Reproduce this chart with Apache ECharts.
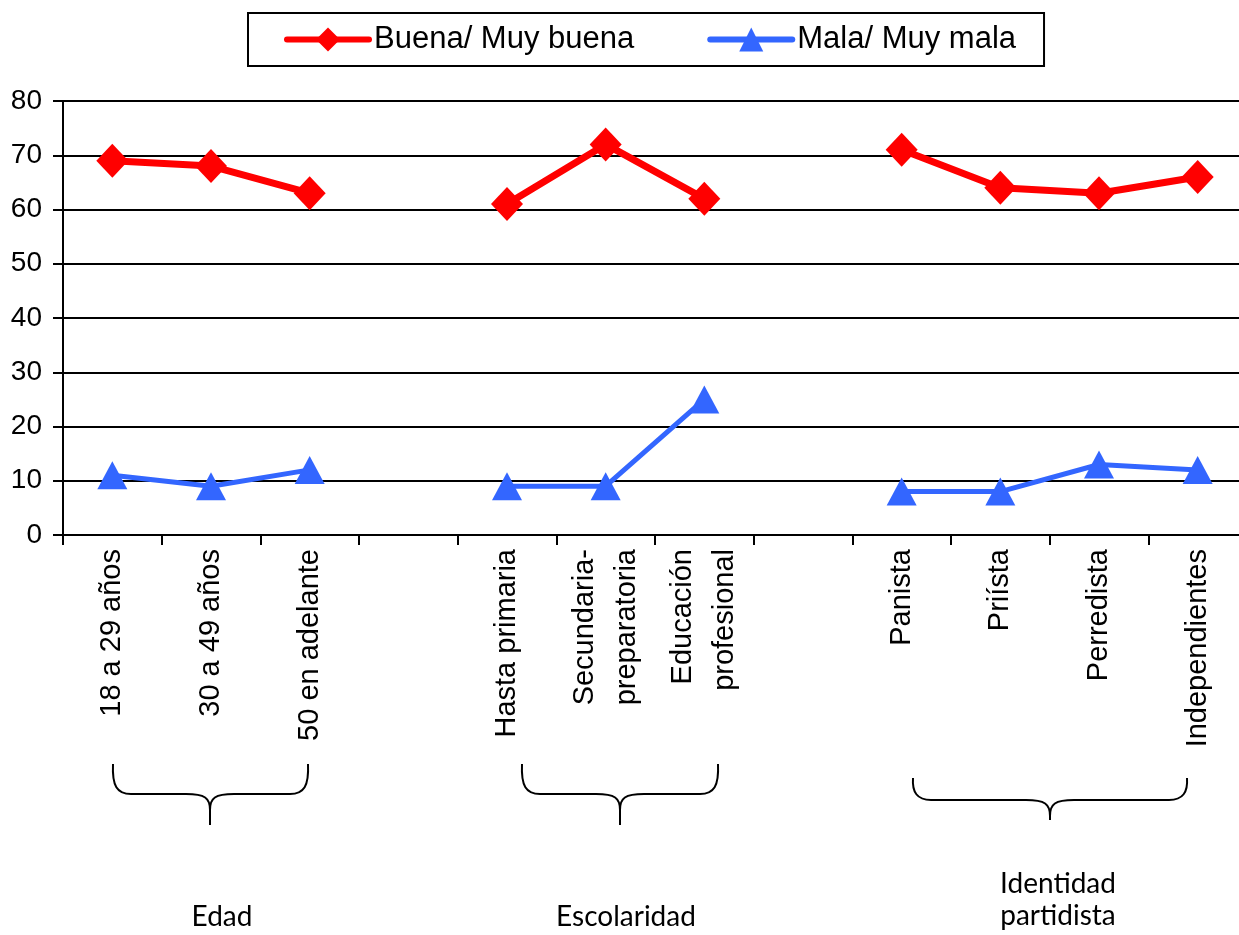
<!DOCTYPE html>
<html>
<head>
<meta charset="utf-8">
<script src="https://cdn.jsdelivr.net/npm/echarts@6/dist/echarts.min.js"></script>
<style>
html,body{margin:0;padding:0;background:#fff;}
#chart{width:1239px;height:935px;}
</style>
</head>
<body>
<div id="chart"></div>
<script>
// ---- data ----
const categories = ['18 a 29 años', '30 a 49 años', '50 en adelante', '', 'Hasta primaria', 'Secundaria-\npreparatoria', 'Educación\nprofesional', ' ', 'Panista', 'Priísta', 'Perredista', 'Independientes'];
const seriesNames = ['Buena/ Muy buena', 'Mala/ Muy mala'];
const buena = [69, 68, 63, null, 61, 72, 62, null, 71, 64, 63, 66];
const mala = [11, 9, 12, null, 9, 9, 25, null, 8, 8, 13, 12];
const yMin = 0, yMax = 80, yStep = 10;
const groupLabels = ['Edad', 'Escolaridad', 'Identidad\npartidista'];

// ---- layout / decoration ----
const braces = [
  {x1: 113, x2: 308, tip: 210, top: 764, flat: 794, bottom: 825, lx: 222, ly: 917},
  {x1: 522, x2: 718, tip: 620, top: 764, flat: 794, bottom: 825, lx: 626, ly: 917},
  {x1: 913, x2: 1187, tip: 1050, top: 778, flat: 800, bottom: 820, lx: 1058, ly: 900}
];
const lineSt = {stroke: '#000', lineWidth: 2, fill: null};
const graphics = [];
braces.forEach((b, i) => {
  const r = 18, c = 24;
  [[b.x1, 1], [b.x2, -1]].forEach(([xe, d]) => {
    graphics.push({type: 'bezierCurve', silent: true,
      shape: {x1: xe, y1: b.top, x2: xe + d * r, y2: b.flat, cpx1: xe - d, cpy1: b.flat - 8, cpx2: xe + d * 4, cpy2: b.flat},
      style: lineSt});
    graphics.push({type: 'line', silent: true,
      shape: {x1: xe + d * r, y1: b.flat, x2: b.tip - d * c, y2: b.flat}, style: lineSt});
    graphics.push({type: 'bezierCurve', silent: true,
      shape: {x1: b.tip - d * c, y1: b.flat, x2: b.tip, y2: b.flat + 16, cpx1: b.tip - d * 5, cpy1: b.flat, cpx2: b.tip, cpy2: b.flat + 4},
      style: lineSt});
  });
  graphics.push({type: 'line', silent: true,
    shape: {x1: b.tip, y1: b.flat + 16, x2: b.tip, y2: b.bottom}, style: lineSt});
  graphics.push({
    type: 'text', silent: true, x: b.lx, y: b.ly,
    style: {text: groupLabels[i], font: '28px Lato', fill: '#000', align: 'center', verticalAlign: 'middle', lineHeight: 32}
  });
});

const chart = echarts.init(document.getElementById('chart'), null, {renderer: 'canvas'});
chart.setOption({
  animation: false,
  backgroundColor: '#fff',
  textStyle: {fontFamily: 'Liberation Sans', color: '#000'},
  legend: {
    left: 248, top: 13,
    padding: [11, 28, 11, 36],
    itemWidth: 82, itemHeight: 30, itemGap: 73,
    borderColor: '#000', borderWidth: 2,
    lineStyle: {width: 6, cap: 'round'},
    textStyle: {fontSize: 31, color: '#000', fontFamily: 'Liberation Sans'},
    data: seriesNames
  },
  grid: {left: 63, width: 1184, top: 101, bottom: 400, containLabel: false, outerBoundsMode: 'none'},
  xAxis: {
    type: 'category',
    data: categories,
    boundaryGap: true,
    axisLine: {lineStyle: {color: '#000', width: 2}},
    axisTick: {show: true, length: 10, lineStyle: {color: '#000', width: 2}, interval: 0},
    axisLabel: {interval: 0, rotate: 90, fontSize: 29, color: '#000', margin: 14, lineHeight: 42, fontFamily: 'Liberation Sans'}
  },
  yAxis: {
    type: 'value', min: yMin, max: yMax, interval: yStep,
    axisLine: {show: true, lineStyle: {color: '#000', width: 2}},
    axisTick: {show: true, length: 10, lineStyle: {color: '#000', width: 2}},
    axisLabel: {fontSize: 28, color: '#000', margin: 21, fontFamily: 'Liberation Sans'},
    splitLine: {show: true, lineStyle: {color: '#000', width: 2}}
  },
  series: [
    {
      name: seriesNames[0], type: 'line', data: buena,
      symbol: 'diamond', symbolSize: [32, 34],
      lineStyle: {color: '#ff0000', width: 7},
      itemStyle: {color: '#ff0000'},
      connectNulls: false, z: 3
    },
    {
      name: seriesNames[1], type: 'line', data: mala,
      symbol: 'triangle', symbolSize: [30, 28],
      lineStyle: {color: '#3366ff', width: 5},
      itemStyle: {color: '#3366ff'},
      connectNulls: false, z: 4
    }
  ],
  graphic: graphics
});
</script>
</body>
</html>
